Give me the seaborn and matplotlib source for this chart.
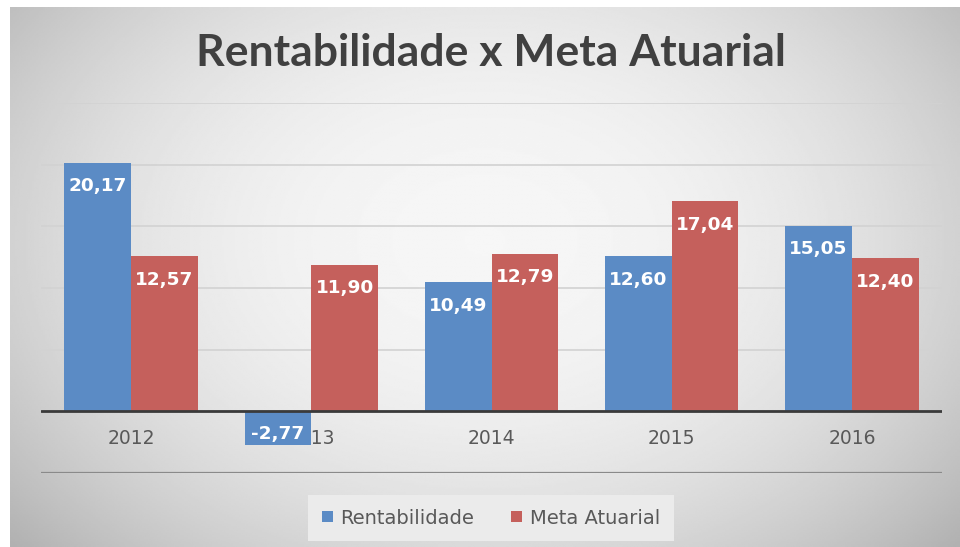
import numpy as np
import pandas as pd
import matplotlib.pyplot as plt
import seaborn as sns

# data
anos = ["2012", "2013", "2014", "2015", "2016"]
rentabilidade = [20.17, -2.77, 10.49, 12.60, 15.05]
meta_atuarial = [12.57, 11.90, 12.79, 17.04, 12.40]
series = ["Rentabilidade", "Meta Atuarial"]
cores = ["#5B8BC5", "#C5605C"]

df = pd.DataFrame({
    "Ano": anos * 2,
    "Valor": rentabilidade + meta_atuarial,
    "Serie": [series[0]] * len(anos) + [series[1]] * len(anos),
})

sns.set_style("white")
plt.rcParams["font.family"] = ["DejaVu Sans"]

fig = plt.figure(figsize=(9.6, 5.47), dpi=100)

# light gray radial background like the office chart
bg = fig.add_axes([10 / 960, 0, 950 / 960, 540 / 547], zorder=-5)
yy, xx = np.mgrid[-1:1:300j, -1:1:500j]
r = np.sqrt((xx * 0.95) ** 2 + (yy * 0.75 + 0.1) ** 2)
bg.imshow(0.965 - 0.16 * np.clip(r, 0, 1.4) ** 2.2, cmap="gray", vmin=0, vmax=1,
          aspect="auto", interpolation="bilinear")
bg.axis("off")

ax = fig.add_axes([41 / 960, 74 / 547, 901 / 960, 370 / 547])
ax.set_facecolor("none")
ax.set_axisbelow(True)

sns.barplot(data=df, x="Ano", y="Valor", hue="Serie", order=anos,
            hue_order=series, palette=cores, width=0.74, saturation=1,
            linewidth=0, ax=ax, zorder=3, legend=True)

ax.set_xlim(-0.5, 4.5)
ax.set_ylim(-5, 25)
ax.set_yticks([-5, 0, 5, 10, 15, 20, 25])
ax.yaxis.grid(True, color="#d2d2d2", lw=1.2)
ax.tick_params(axis="y", left=False, labelleft=False)
ax.tick_params(axis="x", length=0, pad=-32, labelsize=13.5, labelcolor="#595959")
ax.set_xlabel("")
ax.set_ylabel("")
for s in ax.spines.values():
    s.set_visible(False)
ax.axhline(-5, color="#8a8a8a", lw=1.6, zorder=1)
ax.axhline(0, color="#3a3a3a", lw=2, zorder=4)

# value labels inside the bars
for cont in ax.containers:
    for bar in cont:
        v = bar.get_height()
        xc = bar.get_x() + bar.get_width() / 2
        txt = f"{v:.2f}".replace(".", ",")
        dy = -17 if v >= 0 else 8
        ax.annotate(txt, (xc, v), xytext=(0, dy), textcoords="offset points",
                    ha="center", va="center", color="white",
                    fontsize=13.3, fontweight="bold", zorder=5)

ax.legend_.remove()
handles, labels = ax.get_legend_handles_labels()
leg = fig.legend(handles, labels, loc="center", bbox_to_anchor=(491 / 960, 1 - 518 / 547),
                 ncol=2, frameon=True, fontsize=14, handlelength=0.55, handleheight=0.55,
                 handletextpad=0.4, columnspacing=1.9, borderpad=0.7)
leg.get_frame().set_facecolor("#ebebeb")
leg.get_frame().set_edgecolor("none")
leg.get_frame().set_alpha(1)
leg.get_frame().set_boxstyle("square", pad=0)
for t in leg.get_texts():
    t.set_color("#595959")

fig.text(491 / 960, 1 - 53 / 547, "Rentabilidade x Meta Atuarial",
         ha="center", va="center", fontsize=32, fontweight="bold",
         color="#404040", family=["Lato", "DejaVu Sans"])

fig.savefig("out.png", dpi=100, facecolor="white")
